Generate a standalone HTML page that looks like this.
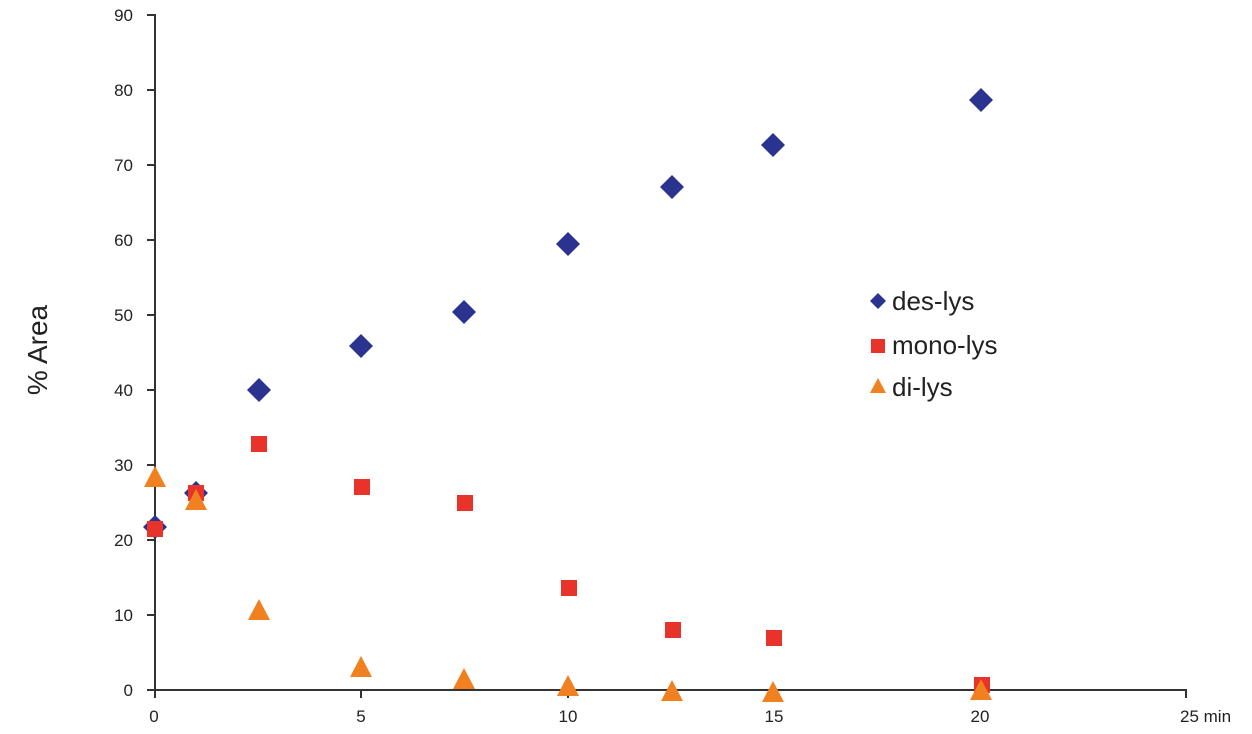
<!DOCTYPE html>
<html><head><meta charset="utf-8"><style>body{margin:0;background:#fff}svg{display:block}</style></head>
<body>
<svg width="1252" height="734" xmlns="http://www.w3.org/2000/svg" font-family="Liberation Sans, sans-serif">
<g stroke="#333" stroke-width="2">
<line x1="155" y1="14" x2="155" y2="691"/>
<line x1="147" y1="690" x2="1187" y2="690"/>
<line x1="147" y1="15" x2="155" y2="15"/><line x1="147" y1="90" x2="155" y2="90"/><line x1="147" y1="165" x2="155" y2="165"/><line x1="147" y1="240" x2="155" y2="240"/><line x1="147" y1="315" x2="155" y2="315"/><line x1="147" y1="390" x2="155" y2="390"/><line x1="147" y1="465" x2="155" y2="465"/><line x1="147" y1="540" x2="155" y2="540"/><line x1="147" y1="615" x2="155" y2="615"/>
<line x1="155" y1="690" x2="155" y2="698"/><line x1="361" y1="690" x2="361" y2="698"/><line x1="568" y1="690" x2="568" y2="698"/><line x1="774" y1="690" x2="774" y2="698"/><line x1="980" y1="690" x2="980" y2="698"/><line x1="1186" y1="690" x2="1186" y2="698"/>
</g>
<g font-size="17" fill="#222" text-anchor="end">
<text x="133" y="21">90</text><text x="133" y="96">80</text><text x="133" y="171">70</text><text x="133" y="246">60</text><text x="133" y="321">50</text><text x="133" y="396">40</text><text x="133" y="471">30</text><text x="133" y="546">20</text><text x="133" y="621">10</text><text x="133" y="696">0</text>
</g>
<g font-size="17" fill="#222" text-anchor="middle">
<text x="154" y="722">0</text><text x="361" y="722">5</text><text x="568" y="722">10</text><text x="774" y="722">15</text><text x="980" y="722">20</text>
</g>
<text x="1180" y="722" font-size="17" fill="#222">25 min</text>
<text transform="translate(47,350) rotate(-90)" font-size="28" fill="#222" text-anchor="middle">% Area</text>
<g fill="#2b3390">
<path d="M155 515l12 12-12 12-12-12z"/><path d="M196 481l12 12-12 12-12-12z"/><path d="M259 378l12 12-12 12-12-12z"/><path d="M361 334l12 12-12 12-12-12z"/><path d="M464 300l12 12-12 12-12-12z"/><path d="M568 232l12 12-12 12-12-12z"/><path d="M672 175l12 12-12 12-12-12z"/><path d="M773 133l12 12-12 12-12-12z"/><path d="M981 88l12 12-12 12-12-12z"/>
</g>
<g fill="#e8332a">
<rect x="147" y="521" width="16" height="16"/><rect x="188" y="485" width="16" height="16"/><rect x="251" y="436" width="16" height="16"/><rect x="354" y="479" width="16" height="16"/><rect x="457" y="495" width="16" height="16"/><rect x="561" y="580" width="16" height="16"/><rect x="665" y="622" width="16" height="16"/><rect x="766" y="630" width="16" height="16"/><rect x="974" y="677" width="16" height="16"/>
</g>
<g fill="#f08020">
<path d="M155 466l11 21h-22z"/><path d="M196 489l11 21h-22z"/><path d="M259 599l11 21h-22z"/><path d="M361 656l11 21h-22z"/><path d="M464 668l11 21h-22z"/><path d="M568 675l11 21h-22z"/><path d="M672 680l11 21h-22z"/><path d="M773 681l11 21h-22z"/><path d="M981 679l11 21h-22z"/>
</g>
<path d="M878 293l8 8-8 8-8-8z" fill="#2b3390"/>
<rect x="871" y="339" width="14" height="14" fill="#e8332a"/>
<path d="M878 378l8 15h-16z" fill="#f08020"/>
<g font-size="26" fill="#222">
<text x="892" y="310">des-lys</text><text x="892" y="354">mono-lys</text><text x="892" y="396">di-lys</text>
</g>
</svg>
</body></html>
